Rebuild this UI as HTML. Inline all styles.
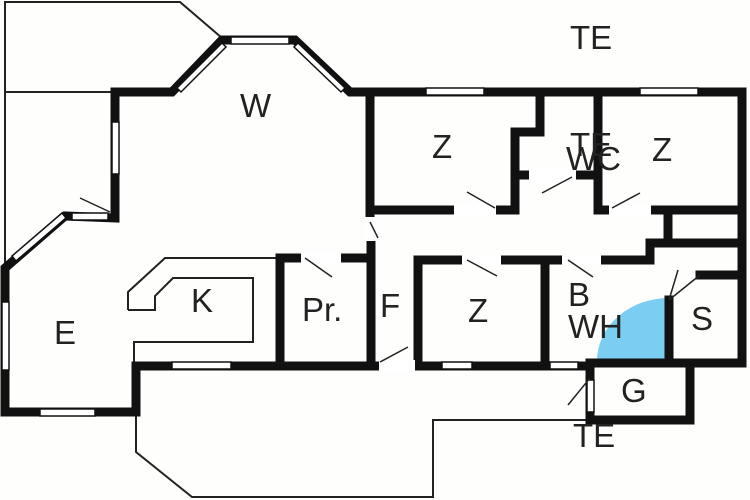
<!DOCTYPE html>
<html><head><style>
html,body{margin:0;padding:0;background:#fff;}
svg{display:block}
text{font-family:"Liberation Sans",sans-serif;fill:#222;}
</style></head><body>
<svg width="750" height="500" viewBox="0 0 750 500" xmlns="http://www.w3.org/2000/svg">
<rect width="750" height="500" fill="#fefefd"/>
<g fill="none" stroke="#222" stroke-width="2">
<polyline points="5,265 5,2 180,2 222,38"/>
<line x1="5" y1="92" x2="115" y2="92"/>
<polyline points="136,412 136,452 192,497 433,497 433,420 590,420"/>
<polyline points="128,310 128,292 165,258 280,258"/>
<polyline points="134,362 134,342 253,342 253,278 173,278 155,296 155,310 128,310"/>
</g>
<path d="M669,361 L669,298 A72,63 0 0 0 597,361 Z" fill="#7ccdf2"/>
<g fill="none" stroke="#111" stroke-width="9" stroke-linecap="square">
<polyline points="115,92 172,92 222,40 295,40 350,92 742,92 742,362"/>
<polyline points="115,92 115,218 65,216 5,268 5,412 136,412 136,366 590,366"/>
<line x1="590" y1="363" x2="742" y2="363"/>
<polyline points="590,366 590,420 690,420 690,366"/>
<line x1="370" y1="92" x2="370" y2="218"/>
<line x1="371" y1="240" x2="371" y2="363"/>
<line x1="280" y1="258" x2="280" y2="363"/>
<polyline points="280,258 302,258"/><polyline points="340,258 371,258"/>
<line x1="418" y1="260" x2="418" y2="363"/>
<polyline points="418,260 463,260"/><polyline points="500,260 563,260"/><polyline points="600,260 650,260 650,243 742,243"/>
<line x1="545" y1="260" x2="545" y2="363"/>
<line x1="669" y1="300" x2="669" y2="363"/>
<line x1="700" y1="275" x2="742" y2="275"/>
<polyline points="370,210 455,210"/><polyline points="495,210 515,210 515,132 540,132 540,92"/>
<line x1="598" y1="92" x2="598" y2="210"/>
<polyline points="515,175 530,175"/><polyline points="575,175 598,175"/>
<polyline points="598,210 610,210"/><polyline points="650,210 742,210"/>
<line x1="668" y1="210" x2="668" y2="243"/>
</g>
<g fill="#fff" stroke="#111" stroke-width="1.5">
<rect x="231" y="37" width="58" height="7"/>
<polygon points="177,88 222,43 226,47 181,92"/>
<polygon points="298,43 345,88 341,92 294,47"/>
<rect x="112" y="122" width="7" height="52"/>
<rect x="72" y="213" width="36" height="7"/>
<polygon points="12,256 62,213 66,218 16,261"/>
<rect x="2" y="302" width="7" height="68"/>
<rect x="40" y="409" width="55" height="7"/>
<rect x="172" y="362" width="59" height="7"/>
<rect x="442" y="362" width="30" height="7"/>
<rect x="550" y="362" width="28" height="7"/>
<rect x="426" y="88" width="58" height="7"/>
<rect x="640" y="88" width="58" height="7"/>
<rect x="587" y="380" width="7" height="32"/>
</g>
<g fill="#fff">
<rect x="379" y="360" width="36" height="12"/>
<rect x="301" y="252" width="40" height="12"/>
<rect x="462" y="254" width="39" height="12"/>
<rect x="562" y="254" width="39" height="12"/>
<rect x="454" y="204" width="42" height="12"/>
<rect x="609" y="204" width="42" height="12"/>
<rect x="529" y="169" width="47" height="12"/>
<rect x="365" y="217" width="11" height="24"/>
</g>
<g stroke="#222" stroke-width="1.5">
<line x1="80" y1="198" x2="110" y2="212"/>
<line x1="305" y1="258" x2="332" y2="277"/>
<line x1="380" y1="362" x2="408" y2="347"/>
<line x1="467" y1="260" x2="497" y2="276"/>
<line x1="568" y1="260" x2="593" y2="277"/>
<line x1="467" y1="192" x2="495" y2="208"/>
<line x1="542" y1="193" x2="572" y2="177"/>
<line x1="612" y1="208" x2="640" y2="193"/>
<line x1="370" y1="222" x2="378" y2="238"/>
<line x1="669" y1="300" x2="678" y2="270"/>
<line x1="669" y1="300" x2="700" y2="275"/>
<line x1="590" y1="378" x2="568" y2="405"/>
</g>
<g font-size="33">
<text x="570" y="49">TE</text>
<text x="240" y="117">W</text>
<text x="432" y="158">Z</text>
<text x="570" y="156">TE</text>
<text x="566" y="170">WC</text>
<text x="652" y="161">Z</text>
<text x="191" y="312">K</text>
<text x="54" y="344">E</text>
<text x="302" y="321">Pr.</text>
<text x="380" y="317">F</text>
<text x="468" y="322">Z</text>
<text x="568" y="306">B</text>
<text x="568" y="338">WH</text>
<text x="691" y="330">S</text>
<text x="621" y="402">G</text>
<text x="573" y="447">TE</text>
</g>
</svg>
</body></html>
